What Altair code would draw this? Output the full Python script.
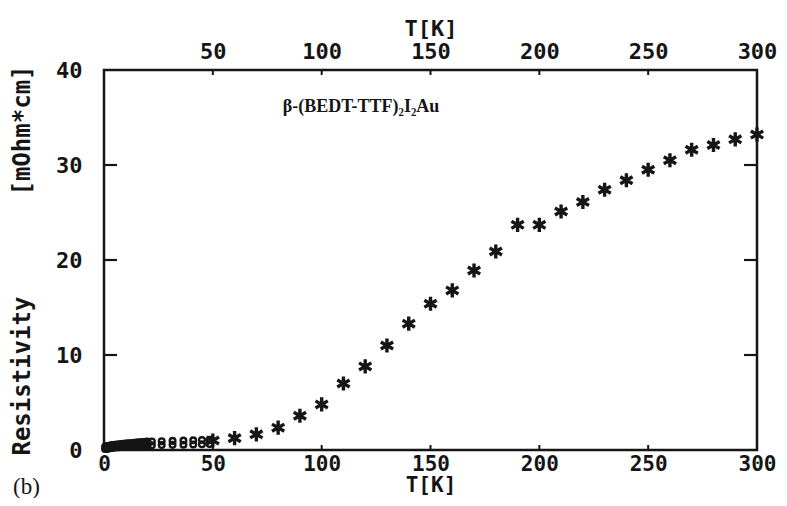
import altair as alt
import pandas as pd

# ---- data ----
T_low = [0.5, 1, 1.5, 2, 2.5, 3, 3.5, 4, 5, 6, 7, 8, 9, 10, 11, 12, 13, 14, 15, 16, 17, 18, 19, 20,
         22, 26.5, 31.5, 36.5, 41, 45, 48.5,
         0.5, 1, 1.5, 2, 2.5, 3, 3.5, 4, 5, 6, 7, 8, 9, 10, 11, 12, 13, 14, 15, 16, 17, 18, 19, 20,
         22, 26.5, 31.5, 36.5, 41, 45, 48.5]
rho_low = [0.1, 0.12, 0.14, 0.16, 0.18, 0.2, 0.22, 0.24, 0.26, 0.28, 0.3, 0.32, 0.34, 0.36, 0.38, 0.4,
           0.41, 0.42, 0.43, 0.44, 0.45, 0.46, 0.47, 0.48,
           0.5, 0.52, 0.54, 0.56, 0.58, 0.6, 0.62,
           0.35, 0.38, 0.4, 0.42, 0.45, 0.48, 0.5, 0.52, 0.55, 0.58, 0.6, 0.62, 0.65, 0.68, 0.7, 0.72,
           0.74, 0.76, 0.78, 0.8, 0.82, 0.84, 0.86, 0.88,
           0.9, 0.93, 0.96, 0.99, 1.02, 1.05, 1.08]
T_star = [50, 60, 70, 80, 90, 100, 110, 120, 130, 140, 150, 160, 170, 180, 190, 200,
          210, 220, 230, 240, 250, 260, 270, 280, 290, 300]
rho_star = [1.0, 1.25, 1.65, 2.35, 3.6, 4.8, 7.0, 8.8, 11.0, 13.3, 15.4, 16.8, 18.9, 20.9, 23.7, 23.7,
            25.1, 26.1, 27.4, 28.4, 29.5, 30.5, 31.6, 32.1, 32.7, 33.2]

x_bottom_ticks = [0, 50, 100, 150, 200, 250, 300]
x_top_ticks = [50, 100, 150, 200, 250, 300]
y_ticks = [0, 10, 20, 30, 40]
inner_x_ticks = [50, 100, 150, 200, 250]
inner_y_ticks = [10, 20, 30]

x_title = "T[K]"
y_title = "Resistivity" + "\u00a0" * 7 + "[mOhm*cm]"
sample_label = "β-(BEDT-TTF)₂I₂Au"
panel_label = "(b)"

# ---- styling ----
FONT = "DejaVu Sans Mono"
INK = "#151515"
W, H = 653, 380

df_low = pd.DataFrame({"T": T_low, "rho": rho_low})
df_star = pd.DataFrame({"T": T_star, "rho": rho_star})
df_ix = pd.DataFrame({"T": inner_x_ticks})
df_iy = pd.DataFrame({"rho": inner_y_ticks})

xs = alt.Scale(domain=[0, 300], nice=False, zero=False)
ys = alt.Scale(domain=[0, 40], nice=False, zero=False)

axis_common = dict(
    labelFont=FONT, labelFontWeight="bold", labelColor=INK,
    titleFont=FONT, titleFontWeight="bold", titleColor=INK,
    domain=False, ticks=False, grid=False, labelFlush=False, labelOverlap=False,
)

star_path = "M0,-1L0,1M-0.87,-0.5L0.87,0.5M-0.87,0.5L0.87,-0.5"

stars = alt.Chart(df_star).mark_point(
    shape=star_path, filled=False, stroke=INK, strokeWidth=3.4, size=200, opacity=1
).encode(
    x=alt.X("T:Q", scale=xs, axis=alt.Axis(
        orient="bottom", values=x_bottom_ticks, title=x_title, labelPadding=3,
        labelFontSize=21, titlePadding=0, titleFontSize=21, **axis_common)),
    y=alt.Y("rho:Q", scale=ys, axis=alt.Axis(
        orient="left", values=y_ticks, title=y_title, labelPadding=22,
        labelFontSize=22, titleX=-82, titleY=H / 2, titleAngle=270, titleAlign="center",
        titleBaseline="middle", titleFontSize=24, **axis_common)),
)

circles = alt.Chart(df_low).mark_point(
    shape="circle", filled=False, stroke=INK, strokeWidth=2.4, size=32, opacity=1
).encode(
    x=alt.X("T:Q", scale=xs, axis=alt.Axis(
        orient="top", values=x_top_ticks, title=x_title, labelPadding=7,
        labelFontSize=22, titlePadding=0, titleFontSize=22, **axis_common)),
    y=alt.Y("rho:Q", scale=ys, axis=None),
)

tick_bottom = alt.Chart(df_ix).mark_rule(color=INK, strokeWidth=2).encode(
    x=alt.X("T:Q", scale=xs, axis=None), y=alt.value(H - 5), y2=alt.value(H))
tick_top = alt.Chart(df_ix).mark_rule(color=INK, strokeWidth=2).encode(
    x=alt.X("T:Q", scale=xs, axis=None), y=alt.value(0), y2=alt.value(5))
tick_left = alt.Chart(df_iy).mark_rule(color=INK, strokeWidth=2.2).encode(
    y=alt.Y("rho:Q", scale=ys, axis=None), x=alt.value(0), x2=alt.value(13))
tick_right = alt.Chart(df_iy).mark_rule(color=INK, strokeWidth=2.2).encode(
    y=alt.Y("rho:Q", scale=ys, axis=None), x=alt.value(W - 13), x2=alt.value(W))

label = alt.Chart(pd.DataFrame({"t": [sample_label]})).mark_text(
    font="Liberation Serif", fontSize=18, fontWeight="bold", color=INK,
    align="center", baseline="middle"
).encode(text="t:N", x=alt.value(257), y=alt.value(37))

panel = alt.Chart(pd.DataFrame({"t": [panel_label]})).mark_text(
    font="Liberation Serif", fontSize=23, color=INK, align="left", baseline="alphabetic"
).encode(text="t:N", x=alt.value(-91), y=alt.value(424))

chart = alt.layer(
    stars, circles, tick_bottom, tick_top, tick_left, tick_right, label, panel
).resolve_axis(x="independent", y="independent").properties(
    width=W, height=H,
    autosize=alt.AutoSizeParams(type="none"),
    padding={"left": 96, "top": 62, "right": 22, "bottom": 48},
    background="white",
).configure_view(stroke=INK, strokeWidth=2.5)

chart.save("out.html", embed_options={"renderer": "svg", "actions": False})
